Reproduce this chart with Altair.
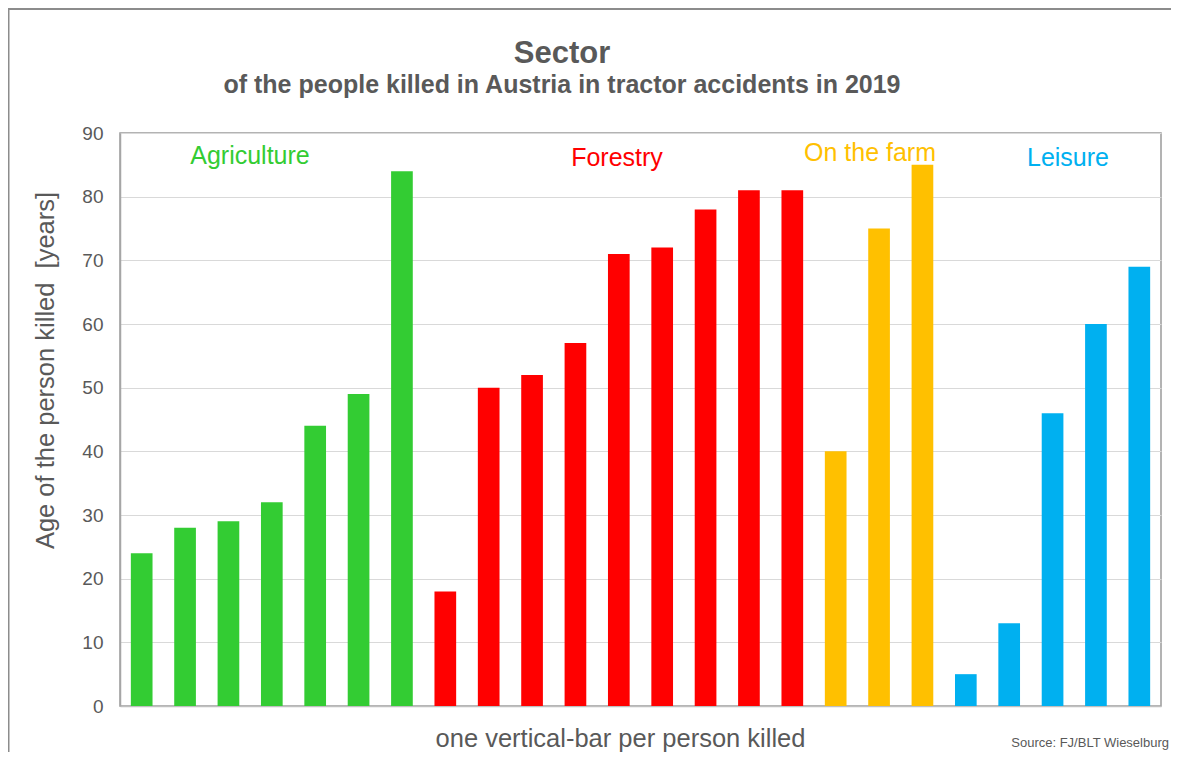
import altair as alt
import pandas as pd

# ---- data ----
sectors = ["Agriculture", "Forestry", "On the farm", "Leisure"]
sector_colors = ["#33CC33", "#FF0000", "#FFC000", "#00B0F0"]
agriculture_ages = [24, 28, 29, 32, 44, 49, 84]
forestry_ages = [18, 50, 52, 57, 71, 72, 78, 81, 81]
farm_ages = [40, 75, 85]
leisure_ages = [5, 13, 46, 60, 69]
y_ticks = [0, 10, 20, 30, 40, 50, 60, 70, 80, 90]

title_text = "Sector"
subtitle_text = "of the people killed in Austria in tractor accidents in 2019"
y_title = "Age of the person killed\u00a0 [years]"
x_title = "one vertical-bar per person killed"
source_text = "Source: FJ/BLT Wieselburg"

rows = []
for sec, ages in zip(sectors, [agriculture_ages, forestry_ages, farm_ages, leisure_ages]):
    for a in ages:
        rows.append({"sector": sec, "age": a})
bars_df = pd.DataFrame(rows)
bars_df["bar"] = [str(i + 1) for i in range(len(bars_df))]
bar_order = list(bars_df["bar"])

FONT = "Liberation Sans"
GREY = "#595959"
W, H = 1041, 573

bars = alt.Chart(bars_df).mark_bar().encode(
    x=alt.X("bar:N", sort=bar_order,
            scale=alt.Scale(paddingInner=0.5, paddingOuter=0.25),
            axis=alt.Axis(labels=False, ticks=False, title=x_title,
                          titleFont=FONT, titleFontSize=25.5, titleFontWeight="normal",
                          titleColor=GREY, titleX=500, titleY=40,
                          titleBaseline="alphabetic", titleAlign="center",
                          domainColor="#bfbfbf", domainWidth=1.5)),
    y=alt.Y("age:Q", scale=alt.Scale(domain=[0, 90], nice=False),
            axis=alt.Axis(values=y_ticks, ticks=False, labelPadding=17,
                          labelFont=FONT, labelFontSize=19, labelColor=GREY,
                          gridColor="#d9d9d9", gridWidth=1.2,
                          domainColor="#a6a6a6", domainWidth=1.5,
                          title=y_title, titleFont=FONT, titleFontSize=25.5,
                          titleFontWeight="normal", titleColor=GREY,
                          titleAngle=-90, titleX=-75, titleY=237,
                          titleAlign="center", titleBaseline="middle")),
    color=alt.Color("sector:N", scale=alt.Scale(domain=sectors, range=sector_colors),
                    legend=None),
)

lab_df = pd.DataFrame({"sector": sectors})
label_x = {"Agriculture": 130, "Forestry": 497, "On the farm": 750, "Leisure": 948}
label_y = {"Agriculture": 31, "Forestry": 33, "On the farm": 28, "Leisure": 33}
labels = []
for sec, col in zip(sectors, sector_colors):
    labels.append(
        alt.Chart(lab_df[lab_df["sector"] == sec]).mark_text(
            font=FONT, fontSize=25, color=col, align="center", baseline="alphabetic"
        ).encode(text="sector:N", x=alt.value(label_x[sec]), y=alt.value(label_y[sec]))
    )

one = pd.DataFrame({"t": [title_text], "s": [subtitle_text], "src": [source_text]})
title_mark = alt.Chart(one).mark_text(
    font=FONT, fontSize=31, fontWeight="bold", color=GREY, align="center", baseline="alphabetic"
).encode(text="t:N", x=alt.value(442), y=alt.value(-70))
subtitle_mark = alt.Chart(one).mark_text(
    font=FONT, fontSize=25, fontWeight="bold", color=GREY, align="center", baseline="alphabetic"
).encode(text="s:N", x=alt.value(442), y=alt.value(-40))
source_mark = alt.Chart(one).mark_text(
    font=FONT, fontSize=13, color=GREY, align="right", baseline="alphabetic"
).encode(text="src:N", x=alt.value(1049), y=alt.value(614))

frame = alt.Chart(one).mark_rect(
    fill=None, fillOpacity=0, stroke="#8c8c8c", strokeWidth=2
).encode(x=alt.value(-111.5), x2=alt.value(1080), y=alt.value(-124), y2=alt.value(660))

chart = alt.layer(frame, bars, *labels, title_mark, subtitle_mark, source_mark).properties(
    width=W, height=H,
    autosize=alt.AutoSizeParams(type="none"),
    padding={"left": 112, "top": 125, "right": 10, "bottom": 46},
    background="white",
).configure_view(stroke="#9a9a9a", strokeWidth=1.5)

chart.save("out.html", embed_options={"renderer": "svg", "actions": False})
